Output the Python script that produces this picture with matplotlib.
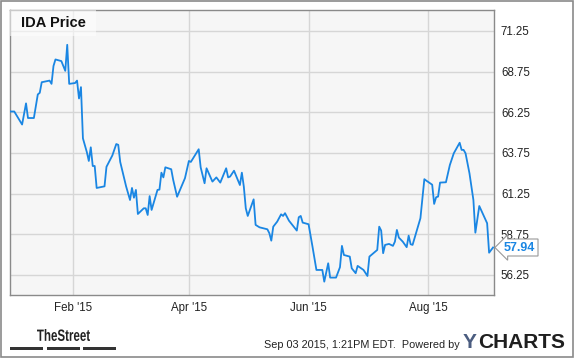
import matplotlib
matplotlib.use("Agg")
import matplotlib.pyplot as plt
import matplotlib.dates as mdates
from matplotlib.patches import Rectangle, PathPatch
from matplotlib.textpath import TextPath
from matplotlib.font_manager import FontProperties
from matplotlib.transforms import Affine2D, IdentityTransform
import pandas as pd

# IDA closing price (turning points)
dates = [
    "2014-12-31", "2015-01-02", "2015-01-06", "2015-01-08", "2015-01-09", "2015-01-12",
    "2015-01-14", "2015-01-15", "2015-01-16", "2015-01-20", "2015-01-21", "2015-01-22",
    "2015-01-23", "2015-01-26", "2015-01-28", "2015-01-29", "2015-01-30", "2015-02-02",
    "2015-02-03", "2015-02-04", "2015-02-05", "2015-02-06", "2015-02-08", "2015-02-09",
    "2015-02-10", "2015-02-11", "2015-02-12", "2015-02-13", "2015-02-17", "2015-02-18",
    "2015-02-21", "2015-02-23", "2015-02-24", "2015-02-25", "2015-02-26", "2015-02-28",
    "2015-03-02", "2015-03-03", "2015-03-04", "2015-03-05", "2015-03-06", "2015-03-09",
    "2015-03-10", "2015-03-11", "2015-03-12", "2015-03-13", "2015-03-16", "2015-03-17",
    "2015-03-18", "2015-03-19", "2015-03-20", "2015-03-23", "2015-03-24", "2015-03-26",
    "2015-03-30", "2015-04-01", "2015-04-02", "2015-04-06", "2015-04-07", "2015-04-09",
    "2015-04-10", "2015-04-13", "2015-04-15", "2015-04-17", "2015-04-20", "2015-04-21",
    "2015-04-22", "2015-04-24", "2015-04-27", "2015-04-28", "2015-04-29", "2015-04-30",
    "2015-05-01", "2015-05-04", "2015-05-05", "2015-05-07", "2015-05-11", "2015-05-12",
    "2015-05-13", "2015-05-14", "2015-05-16", "2015-05-18", "2015-05-19", "2015-05-20",
    "2015-05-22", "2015-05-26", "2015-05-27", "2015-05-28", "2015-05-29", "2015-06-01",
    "2015-06-03", "2015-06-05", "2015-06-08", "2015-06-09", "2015-06-11", "2015-06-12",
    "2015-06-15", "2015-06-17", "2015-06-18", "2015-06-19", "2015-06-22", "2015-06-23",
    "2015-06-25", "2015-06-26", "2015-06-29", "2015-07-01", "2015-07-02", "2015-07-06",
    "2015-07-07", "2015-07-08", "2015-07-09", "2015-07-10", "2015-07-12", "2015-07-14",
    "2015-07-15", "2015-07-16", "2015-07-17", "2015-07-19", "2015-07-21", "2015-07-22",
    "2015-07-23", "2015-07-24", "2015-07-28", "2015-07-30", "2015-07-31", "2015-08-03",
    "2015-08-04", "2015-08-05", "2015-08-06", "2015-08-07", "2015-08-10", "2015-08-12",
    "2015-08-14", "2015-08-17", "2015-08-18", "2015-08-19", "2015-08-20", "2015-08-22",
    "2015-08-24", "2015-08-25", "2015-08-27", "2015-08-31", "2015-09-01", "2015-09-03",
]
prices = [
    66.3, 66.3, 65.5, 66.8, 65.9, 65.9,
    67.35, 67.45, 68.1, 68.2, 68.0, 69.1,
    69.5, 69.4, 68.8, 70.4, 68.0, 68.05,
    68.2, 67.1, 67.8, 64.65, 63.8, 63.26,
    64.1, 62.95, 62.95, 61.6, 61.7, 62.9,
    63.6, 64.3, 64.25, 63.2, 62.7, 61.7,
    60.86, 61.6, 61.0, 61.48, 60.0, 60.35,
    60.35, 59.94, 61.1, 60.25, 61.48, 61.5,
    62.54, 62.25, 62.87, 62.75, 62.1, 61.06,
    62.2, 63.26, 63.2, 63.98, 62.87, 61.89,
    62.81, 61.99, 62.25, 61.93, 62.81, 62.25,
    62.3, 62.66, 61.78, 62.54, 61.68, 60.35,
    59.88, 60.9, 59.33, 59.18, 59.06, 58.82,
    58.36, 59.22, 59.53, 59.98, 59.88, 60.05,
    59.59, 58.98, 59.8, 59.88, 59.47, 59.37,
    57.99, 56.56, 56.56, 55.84, 56.97, 56.09,
    56.09, 56.73, 58.04, 57.48, 57.38, 56.66,
    56.36, 56.81, 56.56, 56.19, 57.38, 57.79,
    59.22, 58.98, 57.59, 58.1, 58.16, 58.04,
    58.3, 59.02, 58.55, 58.3, 57.96, 58.67,
    58.14, 58.1, 59.74, 62.14, 62.05, 61.8,
    60.62, 61.03, 61.07, 61.93, 61.95, 63.01,
    63.73, 64.38, 63.94, 63.94, 63.73, 62.5,
    60.86, 58.85, 60.49, 59.43, 57.62, 57.94,
]
y_ticks = [56.25, 58.75, 61.25, 63.75, 66.25, 68.75, 71.25]
x_ticks = ["2015-02-01", "2015-04-01", "2015-06-01", "2015-08-01"]
last_label = "57.94"

x = pd.to_datetime(dates)

fig = plt.figure(figsize=(5.75, 3.58), dpi=100)
ax = fig.add_axes([10 / 575, 1 - 295 / 358, 484 / 575, 285 / 358])
ax.set_facecolor("#f6f6f6")

ax.plot(x, prices, color="#1a86e3", lw=1.3, zorder=3)

ax.set_xlim(pd.Timestamp("2014-12-30 20:00"), pd.Timestamp("2015-09-03 12:00"))
ax.set_ylim(55.02, 72.54)

ax.set_yticks(y_ticks)
ax.set_yticklabels(["%.2f" % v for v in y_ticks])
ax.set_xticks(pd.to_datetime(x_ticks))
ax.xaxis.set_major_formatter(mdates.DateFormatter("%b '%y"))
ax.yaxis.tick_right()
ax.tick_params(length=0, labelsize=8.3, labelcolor="#222222")
ax.tick_params(axis="y", pad=5)
ax.tick_params(axis="x", pad=5)
for lab in ax.get_xticklabels() + ax.get_yticklabels():
    lab.set_fontfamily("Liberation Sans")

ax.grid(True, color="#d6d6d6", lw=1)
ax.set_axisbelow(True)
for s in ax.spines.values():
    s.set_color("#8a8a8a")
    s.set_linewidth(1)

# title box
ax.add_patch(Rectangle((0, 0.909), 0.178, 0.091, transform=ax.transAxes,
                       facecolor="white", alpha=0.55, edgecolor="none", zorder=4))
ax.text(0.023, 0.955, "IDA Price", transform=ax.transAxes, ha="left", va="center",
        fontsize=10.5, fontweight="bold", family="Liberation Sans", color="#111111", zorder=5)

# last value callout
ax.annotate(last_label, xy=(x[-1], prices[-1]), xytext=(8, 0), textcoords="offset points",
            ha="left", va="center", fontsize=9, fontweight="bold", color="#1a86e3",
            family="Liberation Sans", annotation_clip=False,
            bbox=dict(boxstyle="larrow,pad=0.2", fc="white", ec="#999999", lw=0.8))

# outer frame
fig.patches.append(Rectangle((0.0015, 0.0025), 0.995, 0.994, transform=fig.transFigure,
                             fill=False, edgecolor="#8a8a8a", lw=1.2))

# footer: condensed "TheStreet" logo squeezed into its box (pixel coords)
tp = TextPath((0, 0), "TheStreet", size=20,
              prop=FontProperties(family="Liberation Sans", weight="bold"))
ext = tp.get_extents()
sx = 53 / ext.width
sy = 12 / ext.height
logo_tf = Affine2D().translate(-ext.x0, -ext.y0).scale(sx, sy).translate(37, 358 - 341)
fig.patches.append(PathPatch(logo_tf.transform_path(tp), transform=IdentityTransform(),
                             facecolor="#222222", edgecolor="none"))
for bx in [10, 47, 83]:
    fig.patches.append(Rectangle((bx / 575, 1 - 350 / 358), 33 / 575, 3 / 358,
                                 transform=fig.transFigure, facecolor="#333333", edgecolor="none"))
fig.text(460 / 575, 1 - 345 / 358, "Sep 03 2015, 1:21PM EDT.  Powered by", ha="right",
         va="center", fontsize=7.8, family="Liberation Sans", color="#222222")
fig.text(463 / 575, 1 - 342 / 358, "Y", ha="left", va="center", fontsize=15,
         fontweight="bold", family="Liberation Sans", color="#4b5d80")
fig.text(478 / 575, 1 - 342 / 358, "CHARTS", ha="left", va="center", fontsize=15,
         fontweight="bold", family="Liberation Sans", color="#1f1f1f")

fig.savefig("out.png", dpi=100)
